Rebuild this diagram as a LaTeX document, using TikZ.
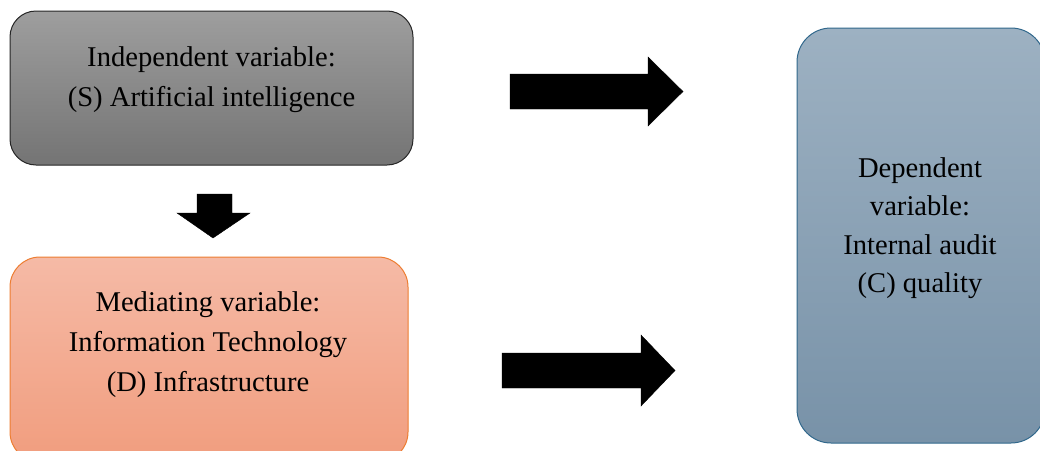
\documentclass[tikz,border=0pt]{standalone}
\usepackage{fontspec}
\setmainfont{Liberation Serif}
\begin{document}
\begin{tikzpicture}[x=1pt,y=-1pt,
  lbl/.style={align=center,font=\fontsize{28.6}{40}\selectfont,text=black,inner sep=0pt},
  blockarrow/.style={fill=black,draw=black,line width=0.4pt}]
\useasboundingbox (0,0) rectangle (1040,450);
\begin{scope}
\clip (0,0) rectangle (1040,450);
% box 1
\draw[rounded corners=26pt,draw=black!85,line width=1pt,top color={rgb,255:red,158;green,158;blue,158},bottom color={rgb,255:red,116;green,116;blue,116}]
  (10,11) rectangle (413,165);
% box 2
\draw[rounded corners=30pt,draw={rgb,255:red,237;green,125;blue,49},line width=1pt,top color={rgb,255:red,245;green,186;blue,166},bottom color={rgb,255:red,241;green,157;blue,126}]
  (10,257) rectangle (408,462);
% box 3
\draw[rounded corners=34pt,draw={rgb,255:red,49;green,104;blue,140},line width=1pt,top color={rgb,255:red,157;green,177;blue,194},bottom color={rgb,255:red,120;green,146;blue,168}]
  (797,28) rectangle (1045,443);
\end{scope}
% texts
\node[lbl] (s) at (211.5,80) {Independent variable:\\(S) Artificial intelligence};
\node[lbl] (d) at (208,345) {Mediating variable:\\Information Technology\\(D) Infrastructure};
\node[lbl,font=\fontsize{28.6}{38.5}\selectfont] (c) at (920,228) {Dependent\\variable:\\Internal audit\\(C) quality};
% block arrows
\fill[blockarrow] (510,74) -- (648,74) -- (648,57) -- (683,91.5) -- (648,126) -- (648,109) -- (510,109) -- cycle;
\fill[blockarrow] (502,353) -- (641,353) -- (641,335) -- (675,370.5) -- (641,406) -- (641,388) -- (502,388) -- cycle;
\fill[blockarrow] (197,194) -- (232,194) -- (232,213) -- (250,213) -- (213,238) -- (177,213) -- (197,213) -- cycle;
\end{tikzpicture}
\end{document}
